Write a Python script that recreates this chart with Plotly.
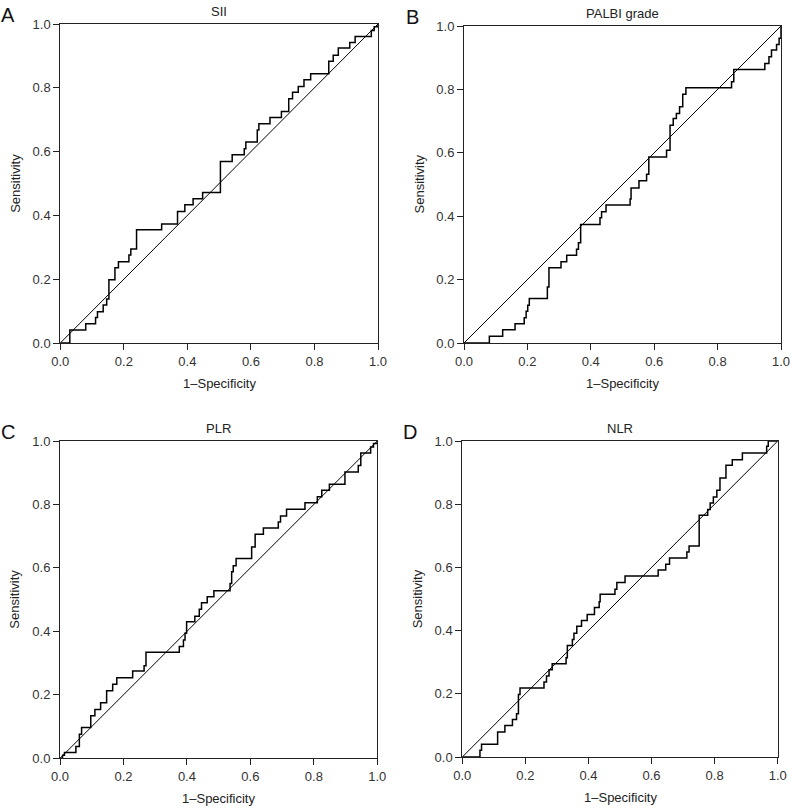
import plotly.graph_objects as go

# ---------------- data ----------------
tick_vals = [0.0, 0.2, 0.4, 0.6, 0.8, 1.0]
tick_text = ["0.0", "0.2", "0.4", "0.6", "0.8", "1.0"]

panel_letters = ["A", "B", "C", "D"]
panel_titles = ["SII", "PALBI grade", "PLR", "NLR"]
x_title = "1–Specificity"
y_title = "Sensitivity"

sii_fpr = [0, 0.030, 0.080, 0.111, 0.117, 0.135, 0.146, 0.153, 0.172, 0.183, 0.216, 0.222,
           0.240, 0.319, 0.369, 0.392, 0.418, 0.448, 0.504, 0.541, 0.579, 0.584, 0.620, 0.625,
           0.660, 0.696, 0.719, 0.731, 0.749, 0.767, 0.788, 0.845, 0.859, 0.875, 0.911, 0.928,
           0.979, 0.988, 1.0]
sii_tpr = [0, 0.041, 0.060, 0.080, 0.098, 0.119, 0.138, 0.198, 0.236, 0.255, 0.276, 0.295,
           0.355, 0.373, 0.412, 0.433, 0.452, 0.472, 0.569, 0.590, 0.609, 0.630, 0.668, 0.687,
           0.707, 0.726, 0.766, 0.786, 0.804, 0.825, 0.844, 0.883, 0.902, 0.925, 0.942, 0.961,
           0.980, 0.991, 1.0]

palbi_fpr = [0, 0.080, 0.122, 0.161, 0.190, 0.196, 0.201, 0.206, 0.263, 0.268, 0.306, 0.324,
             0.355, 0.361, 0.368, 0.429, 0.434, 0.448, 0.524, 0.527, 0.552, 0.576, 0.583, 0.639,
             0.650, 0.660, 0.670, 0.680, 0.690, 0.700, 0.844, 0.851, 0.949, 0.962, 0.970, 0.986,
             0.994, 1.0]
palbi_tpr = [0, 0.021, 0.042, 0.061, 0.080, 0.100, 0.119, 0.140, 0.177, 0.237, 0.256, 0.277,
             0.296, 0.316, 0.374, 0.395, 0.414, 0.435, 0.454, 0.489, 0.512, 0.532, 0.587, 0.608,
             0.687, 0.708, 0.724, 0.745, 0.785, 0.805, 0.824, 0.863, 0.882, 0.903, 0.924, 0.942,
             0.961, 1.0]

plr_fpr = [0, 0.008, 0.014, 0.050, 0.061, 0.068, 0.097, 0.110, 0.128, 0.147, 0.166, 0.179,
           0.229, 0.265, 0.271, 0.376, 0.389, 0.394, 0.399, 0.425, 0.439, 0.446, 0.464, 0.485,
           0.536, 0.541, 0.546, 0.555, 0.604, 0.615, 0.641, 0.688, 0.695, 0.714, 0.772, 0.811,
           0.825, 0.849, 0.898, 0.940, 0.948, 0.979, 0.988, 1.0]
plr_tpr = [0, 0.010, 0.018, 0.037, 0.076, 0.097, 0.134, 0.154, 0.175, 0.213, 0.233, 0.254,
           0.275, 0.292, 0.334, 0.352, 0.373, 0.394, 0.430, 0.448, 0.470, 0.490, 0.509, 0.528,
           0.551, 0.588, 0.607, 0.630, 0.666, 0.706, 0.726, 0.745, 0.764, 0.785, 0.805, 0.824,
           0.845, 0.864, 0.902, 0.923, 0.962, 0.981, 0.992, 1.0]

nlr_fpr = [0, 0.056, 0.061, 0.112, 0.135, 0.159, 0.172, 0.178, 0.183, 0.259, 0.267, 0.275,
           0.285, 0.329, 0.333, 0.349, 0.354, 0.363, 0.378, 0.396, 0.419, 0.434, 0.437, 0.484,
           0.490, 0.516, 0.621, 0.645, 0.657, 0.712, 0.719, 0.751, 0.778, 0.786, 0.796, 0.807,
           0.817, 0.836, 0.856, 0.888, 0.965, 0.970, 1.0]
nlr_tpr = [0, 0.021, 0.040, 0.079, 0.100, 0.119, 0.137, 0.198, 0.218, 0.237, 0.256, 0.276,
           0.295, 0.314, 0.353, 0.372, 0.392, 0.414, 0.432, 0.451, 0.473, 0.491, 0.515, 0.531,
           0.552, 0.573, 0.592, 0.610, 0.630, 0.649, 0.668, 0.765, 0.783, 0.804, 0.823, 0.844,
           0.883, 0.923, 0.941, 0.962, 0.983, 1.0, 1.0]

curves = [(sii_fpr, sii_tpr), (palbi_fpr, palbi_tpr), (plr_fpr, plr_tpr), (nlr_fpr, nlr_tpr)]

# ---------------- layout geometry (pixels) ----------------
W, H = 792, 808
# (left, right, top, bottom) of each plot area in pixels
boxes = [(60.3, 378.0, 24.0, 343.0),
         (464.0, 781.0, 26.0, 343.0),
         (60.0, 377.3, 441.0, 758.3),
         (462.3, 777.7, 441.0, 757.0)]

FONT = "Liberation Sans, Arial, Helvetica, sans-serif"

def px_x(p):
    return p / W

def px_y(p):
    return 1 - p / H

fig = go.Figure()
annotations = []
layout_axes = {}

for i, ((fpr, tpr), (l, r, t, b)) in enumerate(zip(curves, boxes)):
    n = "" if i == 0 else str(i + 1)
    xa, ya = "x" + n, "y" + n
    # diagonal reference line
    fig.add_trace(go.Scatter(x=[tick_vals[0], tick_vals[-1]], y=[tick_vals[0], tick_vals[-1]],
                             mode="lines", line=dict(color="black", width=1),
                             xaxis=xa, yaxis=ya, showlegend=False, hoverinfo="skip"))
    # ROC step curve
    fig.add_trace(go.Scatter(x=fpr, y=tpr, mode="lines", line_shape="hv",
                             line=dict(color="black", width=1.5),
                             xaxis=xa, yaxis=ya, showlegend=False))
    common = dict(range=[0, 1], tickvals=tick_vals, ticktext=tick_text, ticks="outside",
                  ticklen=6, tickwidth=1, tickcolor="#222", showline=True, linecolor="#222",
                  linewidth=1, mirror=True, showgrid=False, zeroline=False, automargin=False,
                  tickfont=dict(family=FONT, size=13, color="#333"), fixedrange=True)
    layout_axes["xaxis" + n] = dict(common, domain=[px_x(l), px_x(r)], anchor=ya)
    layout_axes["yaxis" + n] = dict(common, domain=[px_y(b), px_y(t)], anchor=xa)

    cx = (l + r) / 2
    cy = (t + b) / 2
    # panel title
    annotations.append(dict(text=panel_titles[i], x=px_x(cx), y=px_y(t - 12.5), xref="paper",
                            yref="paper", showarrow=False, xanchor="center", yanchor="middle",
                            font=dict(family=FONT, size=13, color="#222")))
    # panel letter
    annotations.append(dict(text=panel_letters[i], x=px_x(l - 52), y=px_y(t - 9), xref="paper",
                            yref="paper", showarrow=False, xanchor="center", yanchor="middle",
                            font=dict(family=FONT, size=20, color="#111")))
    # x-axis title
    annotations.append(dict(text=x_title, x=px_x(cx), y=px_y(b + 40), xref="paper",
                            yref="paper", showarrow=False, xanchor="center", yanchor="middle",
                            font=dict(family=FONT, size=13, color="#222")))
    # y-axis title
    annotations.append(dict(text=y_title, x=px_x(l - 45), y=px_y(cy), xref="paper",
                            yref="paper", showarrow=False, xanchor="center", yanchor="middle",
                            textangle=-90, font=dict(family=FONT, size=13, color="#222")))

fig.update_layout(template="none", width=W, height=H, autosize=False,
                  margin=dict(l=0, r=0, t=0, b=0, pad=0),
                  paper_bgcolor="white", plot_bgcolor="white",
                  hovermode=False,
                  annotations=annotations, **layout_axes)

# remove the default page margin so the figure fills the window exactly
fig.write_html("out.html",
               config={"displayModeBar": False, "staticPlot": True},
               post_script="document.body.style.margin='0px';"
                           "document.body.style.overflow='hidden';")
